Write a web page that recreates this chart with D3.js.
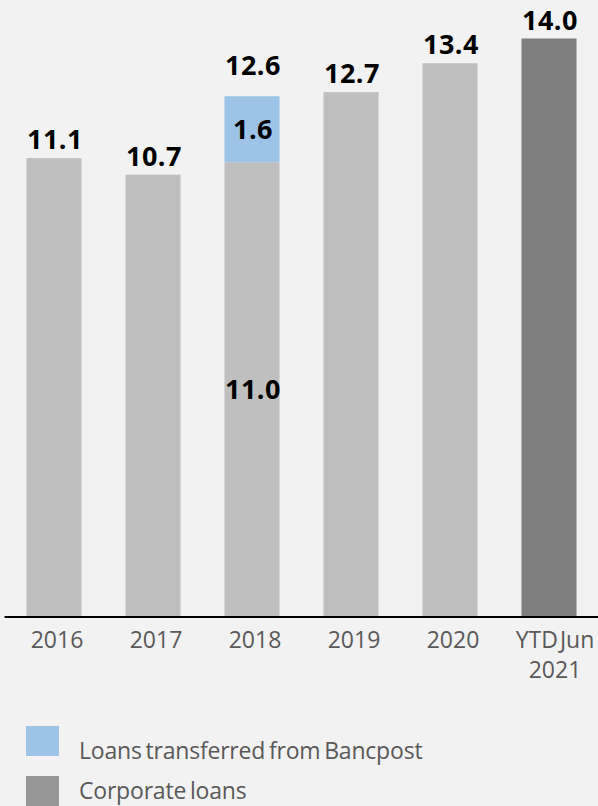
<!DOCTYPE html>
<html>
<head>
<meta charset="utf-8">
<script src="https://cdn.jsdelivr.net/npm/d3@7"></script>
<style>
  html, body { margin: 0; padding: 0; background: #f2f2f2; }
  svg { display: block; font-family: "Open Sans", sans-serif; }
</style>
</head>
<body>
<svg width="598" height="806"></svg>
<script>
// Chart data
var categories = ["2016", "2017", "2018", "2019", "2020", "YTD Jun 2021"];
var tickLines = [["2016"], ["2017"], ["2018"], ["2019"], ["2020"], ["YTD Jun", "2021"]];
var baseValues = [11.1, 10.7, 11.0, 12.7, 13.4, 14.0];     // grey part
var bancpostValues = [0, 0, 1.6, 0, 0, 0];                  // blue part (2018 only)
var totals = [11.1, 10.7, 12.6, 12.7, 13.4, 14.0];
var legendItems = ["Loans transferred from Bancpost", "Corporate loans"];

var colGrey = "#bfbfbf", colBlue = "#9dc3e6", colDark = "#7f7f7f", colLegendGrey = "#979797";
var font = "'Open Sans', sans-serif";

var svg = d3.select("svg");

var x = d3.scaleBand()
    .domain(categories)
    .range([4.5, 598.5])
    .paddingInner(0.444)
    .paddingOuter(0.222);

var y = d3.scaleLinear()
    .domain([0, 14])
    .range([616, 616 - 14 * 41.25]);

var rows = categories.map(function(c, i) {
    return {cat: c, base: baseValues[i], extra: bancpostValues[i], total: totals[i], i: i};
});

// grey / dark bars
svg.selectAll("rect.base")
    .data(rows)
    .enter()
    .append("rect")
    .attr("class", "base")
    .attr("x", function(d) { return x(d.cat); })
    .attr("width", x.bandwidth())
    .attr("y", function(d) { return y(d.base); })
    .attr("height", function(d) { return y(0) - y(d.base); })
    .style("fill", function(d) { return d.i === categories.length - 1 ? colDark : colGrey; });

// stacked Bancpost part
svg.selectAll("rect.extra")
    .data(rows.filter(function(d) { return d.extra > 0; }))
    .enter()
    .append("rect")
    .attr("class", "extra")
    .attr("x", function(d) { return x(d.cat); })
    .attr("width", x.bandwidth())
    .attr("y", function(d) { return y(d.base + d.extra); })
    .attr("height", function(d) { return y(d.base) - y(d.base + d.extra); })
    .style("fill", colBlue);

// total labels above bars (stacked bar gets a bit more room)
svg.selectAll("text.total")
    .data(rows)
    .enter()
    .append("text")
    .attr("class", "total")
    .attr("x", function(d) { return x(d.cat) + x.bandwidth() / 2 + 1; })
    .attr("y", function(d) { return y(d.total) - (d.extra > 0 ? 21 : 9); })
    .attr("text-anchor", "middle")
    .style("font-family", font)
    .style("font-size", "27px")
    .style("font-weight", "bold")
    .style("letter-spacing", "0.5px")
    .style("fill", "#000")
    .text(function(d) { return d.total.toFixed(1); });

// segment labels inside the stacked bar
var stacked = rows.filter(function(d) { return d.extra > 0; });
svg.selectAll("text.seg")
    .data(stacked.map(function(d) { return {cat: d.cat, lo: 0, hi: d.base, v: d.base}; })
        .concat(stacked.map(function(d) { return {cat: d.cat, lo: d.base, hi: d.base + d.extra, v: d.extra}; })))
    .enter()
    .append("text")
    .attr("class", "seg")
    .attr("x", function(d) { return x(d.cat) + x.bandwidth() / 2 + 1; })
    .attr("y", function(d) { return (y(d.lo) + y(d.hi)) / 2 + 10; })
    .attr("text-anchor", "middle")
    .style("font-family", font)
    .style("font-size", "27px")
    .style("font-weight", "bold")
    .style("letter-spacing", "0.5px")
    .style("fill", "#000")
    .text(function(d) { return d.v.toFixed(1); });

// x axis
var axis = svg.append("g")
    .attr("transform", "translate(0," + y(0) + ")")
    .call(d3.axisBottom(x).tickSize(0).tickFormat(""));
axis.select(".domain").attr("d", "M4.5,1H598").style("stroke", "#000").style("stroke-width", 2);

axis.selectAll(".tick").each(function(d, i) {
    var t = d3.select(this).append("text")
        .attr("text-anchor", "middle")
        .attr("y", 32)
        .style("font-family", font)
        .style("font-size", "23px")
        .style("fill", "#595959");
    tickLines[i].forEach(function(line, k) {
        t.append("tspan")
            .attr("x", i === 5 ? 6 : 3)
            .attr("dy", k === 0 ? 0 : 30)
            .style("word-spacing", "-4px")
            .text(line);
    });
});

// legend
var legend = svg.selectAll("g.legend")
    .data(legendItems)
    .enter()
    .append("g")
    .attr("class", "legend")
    .attr("transform", function(d, i) { return "translate(26," + (726 + i * 50) + ")"; });

legend.append("rect")
    .attr("width", 33)
    .attr("height", 30)
    .style("fill", function(d, i) { return i === 0 ? colBlue : colLegendGrey; });

legend.append("text")
    .attr("x", 53)
    .attr("y", function(d, i) { return i === 0 ? 33 : 23; })
    .style("font-family", font)
    .style("font-size", "23px")
    .style("fill", "#595959")
    .style("word-spacing", "-2px")
    .style("letter-spacing", "-0.2px")
    .text(function(d) { return d; });
</script>
</body>
</html>
